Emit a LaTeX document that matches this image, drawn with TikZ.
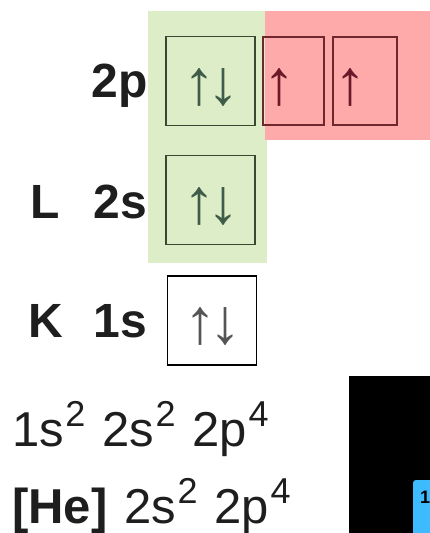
\documentclass[tikz,border=0pt]{standalone}
\usepackage{fontspec}
\setmainfont{Liberation Sans}
\usetikzlibrary{positioning}
\definecolor{OrbVerde}{RGB}{220,237,200}
\definecolor{OrbVerdeBorda}{RGB}{58,72,50}
\definecolor{OrbVerdeSeta}{RGB}{62,92,72}
\definecolor{OrbVermelho}{RGB}{255,170,170}
\definecolor{OrbVermelhoBorda}{RGB}{110,40,45}
\definecolor{OrbVermelhoSeta}{RGB}{105,25,40}
\definecolor{OrbCinza}{RGB}{85,85,85}
\definecolor{OrbTexto}{RGB}{30,30,30}
\definecolor{OrbAzul}{RGB}{62,186,255}
\newcommand{\sobrescrito}[1]{\kern1.5pt\raisebox{20pt}{\fontsize{36}{36}\selectfont #1}}
\newcommand{\espaco}{\hspace{17pt}}
\tikzset{
  caixa/.style={draw=black, line width=1.3pt, inner sep=0pt,
                minimum width=89pt, minimum height=89pt},
  caixaverde/.style={caixa, draw=OrbVerdeBorda},
  caixavermelha/.style={caixa, draw=OrbVermelhoBorda, minimum height=88pt},
  spin/.style={font=\fontsize{64}{64}\selectfont, text=OrbCinza,
                inner sep=0pt, yshift=-6pt},
  rotulo/.style={font=\bfseries\fontsize{48}{48}\selectfont, text=OrbTexto,
                inner sep=0pt},
  config/.style={font=\fontsize{49}{49}\selectfont, text=OrbTexto,
                inner sep=0pt, anchor=base west},
}

\begin{document}
\begin{tikzpicture}[x=1pt, y=-1pt]
  \useasboundingbox (0,0) rectangle (429,533);

  % --- faixas de fundo (subnivel cheio / semi-cheio) ---------------------------
  \fill[OrbVerde]    (148,11) rectangle (267,263);
  \fill[OrbVermelho] (265,11) rectangle (430,140);

  % --- caixas dos orbitais ----------------------------------------------------
  \node[caixaverde]                        (p1) at (210.5,81) {};
  \node[caixavermelha, minimum width=61pt] (p2) at (293.5,81) {};
  \node[caixavermelha, minimum width=64pt] (p3) at (365,81)  {};
  \node[caixaverde]                        (s2) at (210.5,200) {};
  \node[caixa]                             (s1) at (212,320.5) {};

  % --- eletrons ---------------------------------------------------------------
  \node[spin, text=OrbVerdeSeta, xshift=1pt] (ep1) at (p1) {↑\kern-7.5pt↓};
  \node[spin, text=OrbVermelhoSeta, xshift=-14.5pt] (ep2) at (p2) {↑};
  \node[spin, text=OrbVermelhoSeta, xshift=-15pt]   (ep3) at (p3) {↑};
  \node[spin, text=OrbVerdeSeta, xshift=1pt] (es2) at (s2) {↑\kern-7.5pt↓};
  \node[spin, xshift=1pt]                    (es1) at (s1) {↑\kern-6.5pt↓};

  % --- rotulos das camadas e subniveis ----------------------------------------
  \node[rotulo, anchor=base east] (lp2) at (148,97)  {2p};
  \node[rotulo, anchor=base east] (ls2) at (147,218) {2s};
  \node[rotulo, anchor=base west] (camL) at (30,218) {L};
  \node[rotulo, anchor=base west] (camK) at (28,337) {K};
  \node[rotulo, anchor=base east] (ls1) at (147,337) {1s};

  % --- configuracao eletronica ------------------------------------------------
  \node[config] (conf) at (12,446)
    {1s\sobrescrito{2}\espaco 2s\sobrescrito{2}\espaco 2p\sobrescrito{4}};
  \node[config] (confhe) at (12,523)
    {\textbf{[He]}\espaco 2s\sobrescrito{2}\espaco 2p\sobrescrito{4}};

  % --- recorte escuro com aba azul (canto inferior direito) -------------------
  \node[fill=black, inner sep=0pt, anchor=north west,
        minimum width=82pt, minimum height=160pt] (tela) at (349,376) {};
  \fill[OrbAzul, rounded corners=3pt] (413,540) |- (440,480) |- cycle;
  \node[font=\bfseries\fontsize{18}{18}\selectfont, inner sep=0pt,
        anchor=base west] (aba) at (420,503) {1};
\end{tikzpicture}
\end{document}
